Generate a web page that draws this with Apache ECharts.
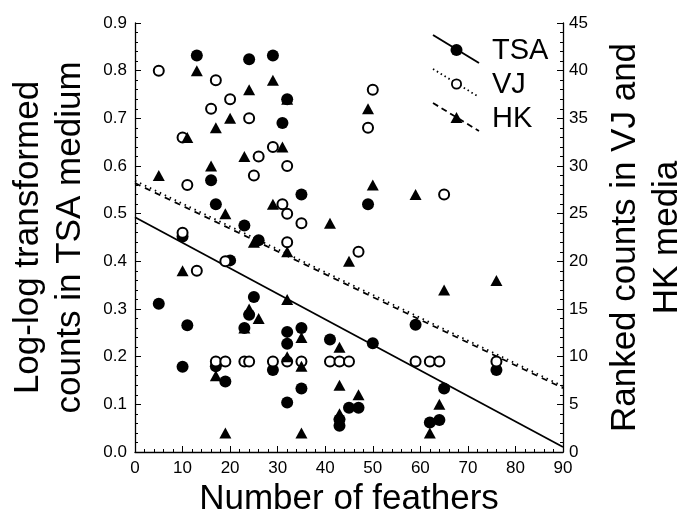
<!DOCTYPE html>
<html>
<head>
<meta charset="utf-8">
<script src="https://cdn.jsdelivr.net/npm/echarts@6/dist/echarts.min.js"></script>
<style>
  html, body { margin: 0; padding: 0; background: #fff; }
  #chart { width: 680px; height: 524px; }
</style>
</head>
<body>
<div id="chart"></div>
<script>
// Feather counts (x) against TSA log-log counts (left axis)
const tsaPoints = [
  [5, 0.311], [10, 0.452], [10, 0.179], [11, 0.266], [13, 0.832], [16, 0.57],
  [17, 0.52], [17, 0.18], [19, 0.148], [20, 0.402], [23, 0.475], [23, 0.26],
  [24, 0.824], [24, 0.288], [25, 0.325], [26, 0.444], [29, 0.832], [29, 0.172],
  [31, 0.69], [32, 0.74], [32, 0.252], [32, 0.227], [32, 0.104], [35, 0.54],
  [35, 0.26], [35, 0.133], [41, 0.236], [43, 0.068], [43, 0.055], [45, 0.093],
  [47, 0.093], [49, 0.52], [50, 0.228], [59, 0.267], [62, 0.062], [64, 0.067],
  [65, 0.133], [76, 0.172]
];
// Ranked counts in VJ medium (right axis)
const vjPoints = [
  [5, 40], [10, 33], [10, 23], [11, 28], [13, 19], [16, 36], [17, 39], [17, 9.5],
  [19, 20], [19, 9.5], [20, 37], [23, 9.5], [24, 35], [24, 9.5], [25, 29], [26, 31],
  [29, 32], [29, 9.5], [31, 26], [32, 30], [32, 25], [32, 22], [32, 9.5], [35, 24],
  [35, 9.5], [41, 9.5], [43, 9.5], [45, 9.5], [47, 21], [49, 34], [50, 38],
  [59, 9.5], [62, 9.5], [64, 9.5], [65, 27], [76, 9.5]
];
// Ranked counts in HK medium (right axis)
const hkPoints = [
  [5, 29], [10, 19], [11, 33], [13, 40], [16, 30], [17, 34], [17, 8], [19, 25],
  [19, 2], [20, 35], [23, 31], [23, 13], [24, 38], [24, 15], [25, 22], [26, 14],
  [29, 39], [29, 26], [31, 32], [32, 37], [32, 21], [32, 16], [32, 10], [35, 12],
  [35, 9], [35, 2], [41, 24], [43, 11], [43, 7], [43, 4], [45, 20], [47, 6],
  [49, 36], [50, 28], [59, 27], [62, 2], [64, 5], [65, 17], [76, 18]
];
// Fitted regression lines (end points)
const tsaFit = [[0, 0.4925], [90, 0.0105]];
const vjFit = [[0, 28.45], [90, 6.9]];
const hkFit = [[0, 28.2], [90, 6.7]];

// Axis tick labels
const xTicks = [0, 10, 20, 30, 40, 50, 60, 70, 80, 90];
const leftTicks = ['0.0', '0.1', '0.2', '0.3', '0.4', '0.5', '0.6', '0.7', '0.8', '0.9'];
const rightTicks = [0, 5, 10, 15, 20, 25, 30, 35, 40, 45];

const FONT = '"Liberation Sans", Arial, Helvetica, sans-serif';
const INK = '#000';

const chart = echarts.init(document.getElementById('chart'), null, { renderer: 'canvas' });

function axisCommon() {
  return {
    axisLine: { show: true, onZero: false, lineStyle: { color: INK, width: 1.3 } },
    axisTick: { show: true, inside: true, length: 6, lineStyle: { color: INK, width: 1 } },
    minorTick: { show: true, splitNumber: 5, length: 3, lineStyle: { color: INK, width: 1 } },
    splitLine: { show: false },
    minorSplitLine: { show: false },
    axisLabel: { color: INK, fontSize: 17, fontFamily: FONT },
    nameTextStyle: { color: INK, fontSize: 35, fontFamily: FONT, lineHeight: 42 }
  };
}

const xAxis = Object.assign(axisCommon(), {
  type: 'value', min: xTicks[0], max: xTicks[xTicks.length - 1], interval: 10,
  name: 'Number of feathers', nameLocation: 'middle', nameGap: 28
});
xAxis.axisLabel = Object.assign({}, xAxis.axisLabel, { margin: 8 });
xAxis.nameTextStyle = Object.assign({}, xAxis.nameTextStyle, { lineHeight: 35 });

const yLeft = Object.assign(axisCommon(), {
  type: 'value', position: 'left', min: 0, max: 0.9, interval: 0.1,
  name: 'Log-log transformed\ncounts in TSA medium', nameLocation: 'middle', nameRotate: 90, nameGap: 44
});
yLeft.axisLabel = Object.assign({}, yLeft.axisLabel, {
  margin: 8, formatter: v => leftTicks[Math.round(v * 10)]
});

const yRight = Object.assign(axisCommon(), {
  type: 'value', position: 'right', min: 0, max: 45, interval: 5,
  name: 'Ranked counts in VJ and\nHK media', nameLocation: 'middle', nameRotate: 90, nameGap: 41
});
yRight.axisLabel = Object.assign({}, yRight.axisLabel, {
  margin: 6, formatter: v => String(rightTicks[Math.round(v / 5)])
});

// Legend drawn as small sample glyphs with slanted line segments
const legendRows = [
  { label: 'TSA', y: 50, dash: null, mark: 'dot' },
  { label: 'VJ', y: 84, dash: [1.5, 3], mark: 'ring' },
  { label: 'HK', y: 118, dash: [6, 4], mark: 'tri' }
];
const legendGraphics = [];
legendRows.forEach(r => {
  legendGraphics.push({
    type: 'line',
    shape: { x1: 433, y1: r.y - 15, x2: 479, y2: r.y + 13 },
    style: { stroke: INK, lineWidth: r.dash ? 1.8 : 2, lineDash: r.dash }
  });
  if (r.mark === 'dot') {
    legendGraphics.push({ type: 'circle', shape: { cx: 456.5, cy: r.y, r: 6 }, style: { fill: INK } });
  } else if (r.mark === 'ring') {
    legendGraphics.push({ type: 'circle', shape: { cx: 456.5, cy: r.y, r: 4.6 }, style: { fill: '#fff', stroke: INK, lineWidth: 1.8 } });
  } else {
    legendGraphics.push({
      type: 'polygon',
      shape: { points: [[456.5, r.y - 6], [462.5, r.y + 5], [450.5, r.y + 5]] },
      style: { fill: INK }
    });
  }
  legendGraphics.push({
    type: 'text', x: 492, y: r.y + 1,
    style: { text: r.label, fontSize: 29, fontFamily: FONT, fill: INK, verticalAlign: 'middle', align: 'left' }
  });
});

const option = {
  backgroundColor: '#fff',
  animation: false,
  grid: { left: 135, right: 117, top: 23, bottom: 72, containLabel: false, outerBoundsMode: 'none' },
  xAxis: xAxis,
  yAxis: [yLeft, yRight],
  graphic: legendGraphics,
  series: [
    {
      name: 'TSA fit', type: 'line', yAxisIndex: 0, data: tsaFit, showSymbol: false, silent: true,
      lineStyle: { color: INK, width: 1.8, type: 'solid' }, z: 1
    },
    {
      name: 'VJ fit', type: 'line', yAxisIndex: 1, data: vjFit, showSymbol: false, silent: true,
      lineStyle: { color: INK, width: 1.8, type: [1.5, 4] }, z: 1
    },
    {
      name: 'HK fit', type: 'line', yAxisIndex: 1, data: hkFit, showSymbol: false, silent: true,
      lineStyle: { color: INK, width: 1.8, type: [6, 5] }, z: 1
    },
    {
      name: 'TSA', type: 'scatter', yAxisIndex: 0, data: tsaPoints, symbol: 'circle', symbolSize: 12,
      itemStyle: { color: INK, opacity: 1 }, z: 2
    },
    {
      name: 'VJ', type: 'scatter', yAxisIndex: 1, data: vjPoints, symbol: 'circle', symbolSize: 10,
      itemStyle: { color: '#fff', borderColor: INK, borderWidth: 2, opacity: 1 }, z: 3
    },
    {
      name: 'HK', type: 'scatter', yAxisIndex: 1, data: hkPoints, symbol: 'triangle', symbolSize: [12, 11],
      itemStyle: { color: INK, opacity: 1 }, z: 4
    }
  ]
};

chart.setOption(option);
</script>
</body>
</html>
